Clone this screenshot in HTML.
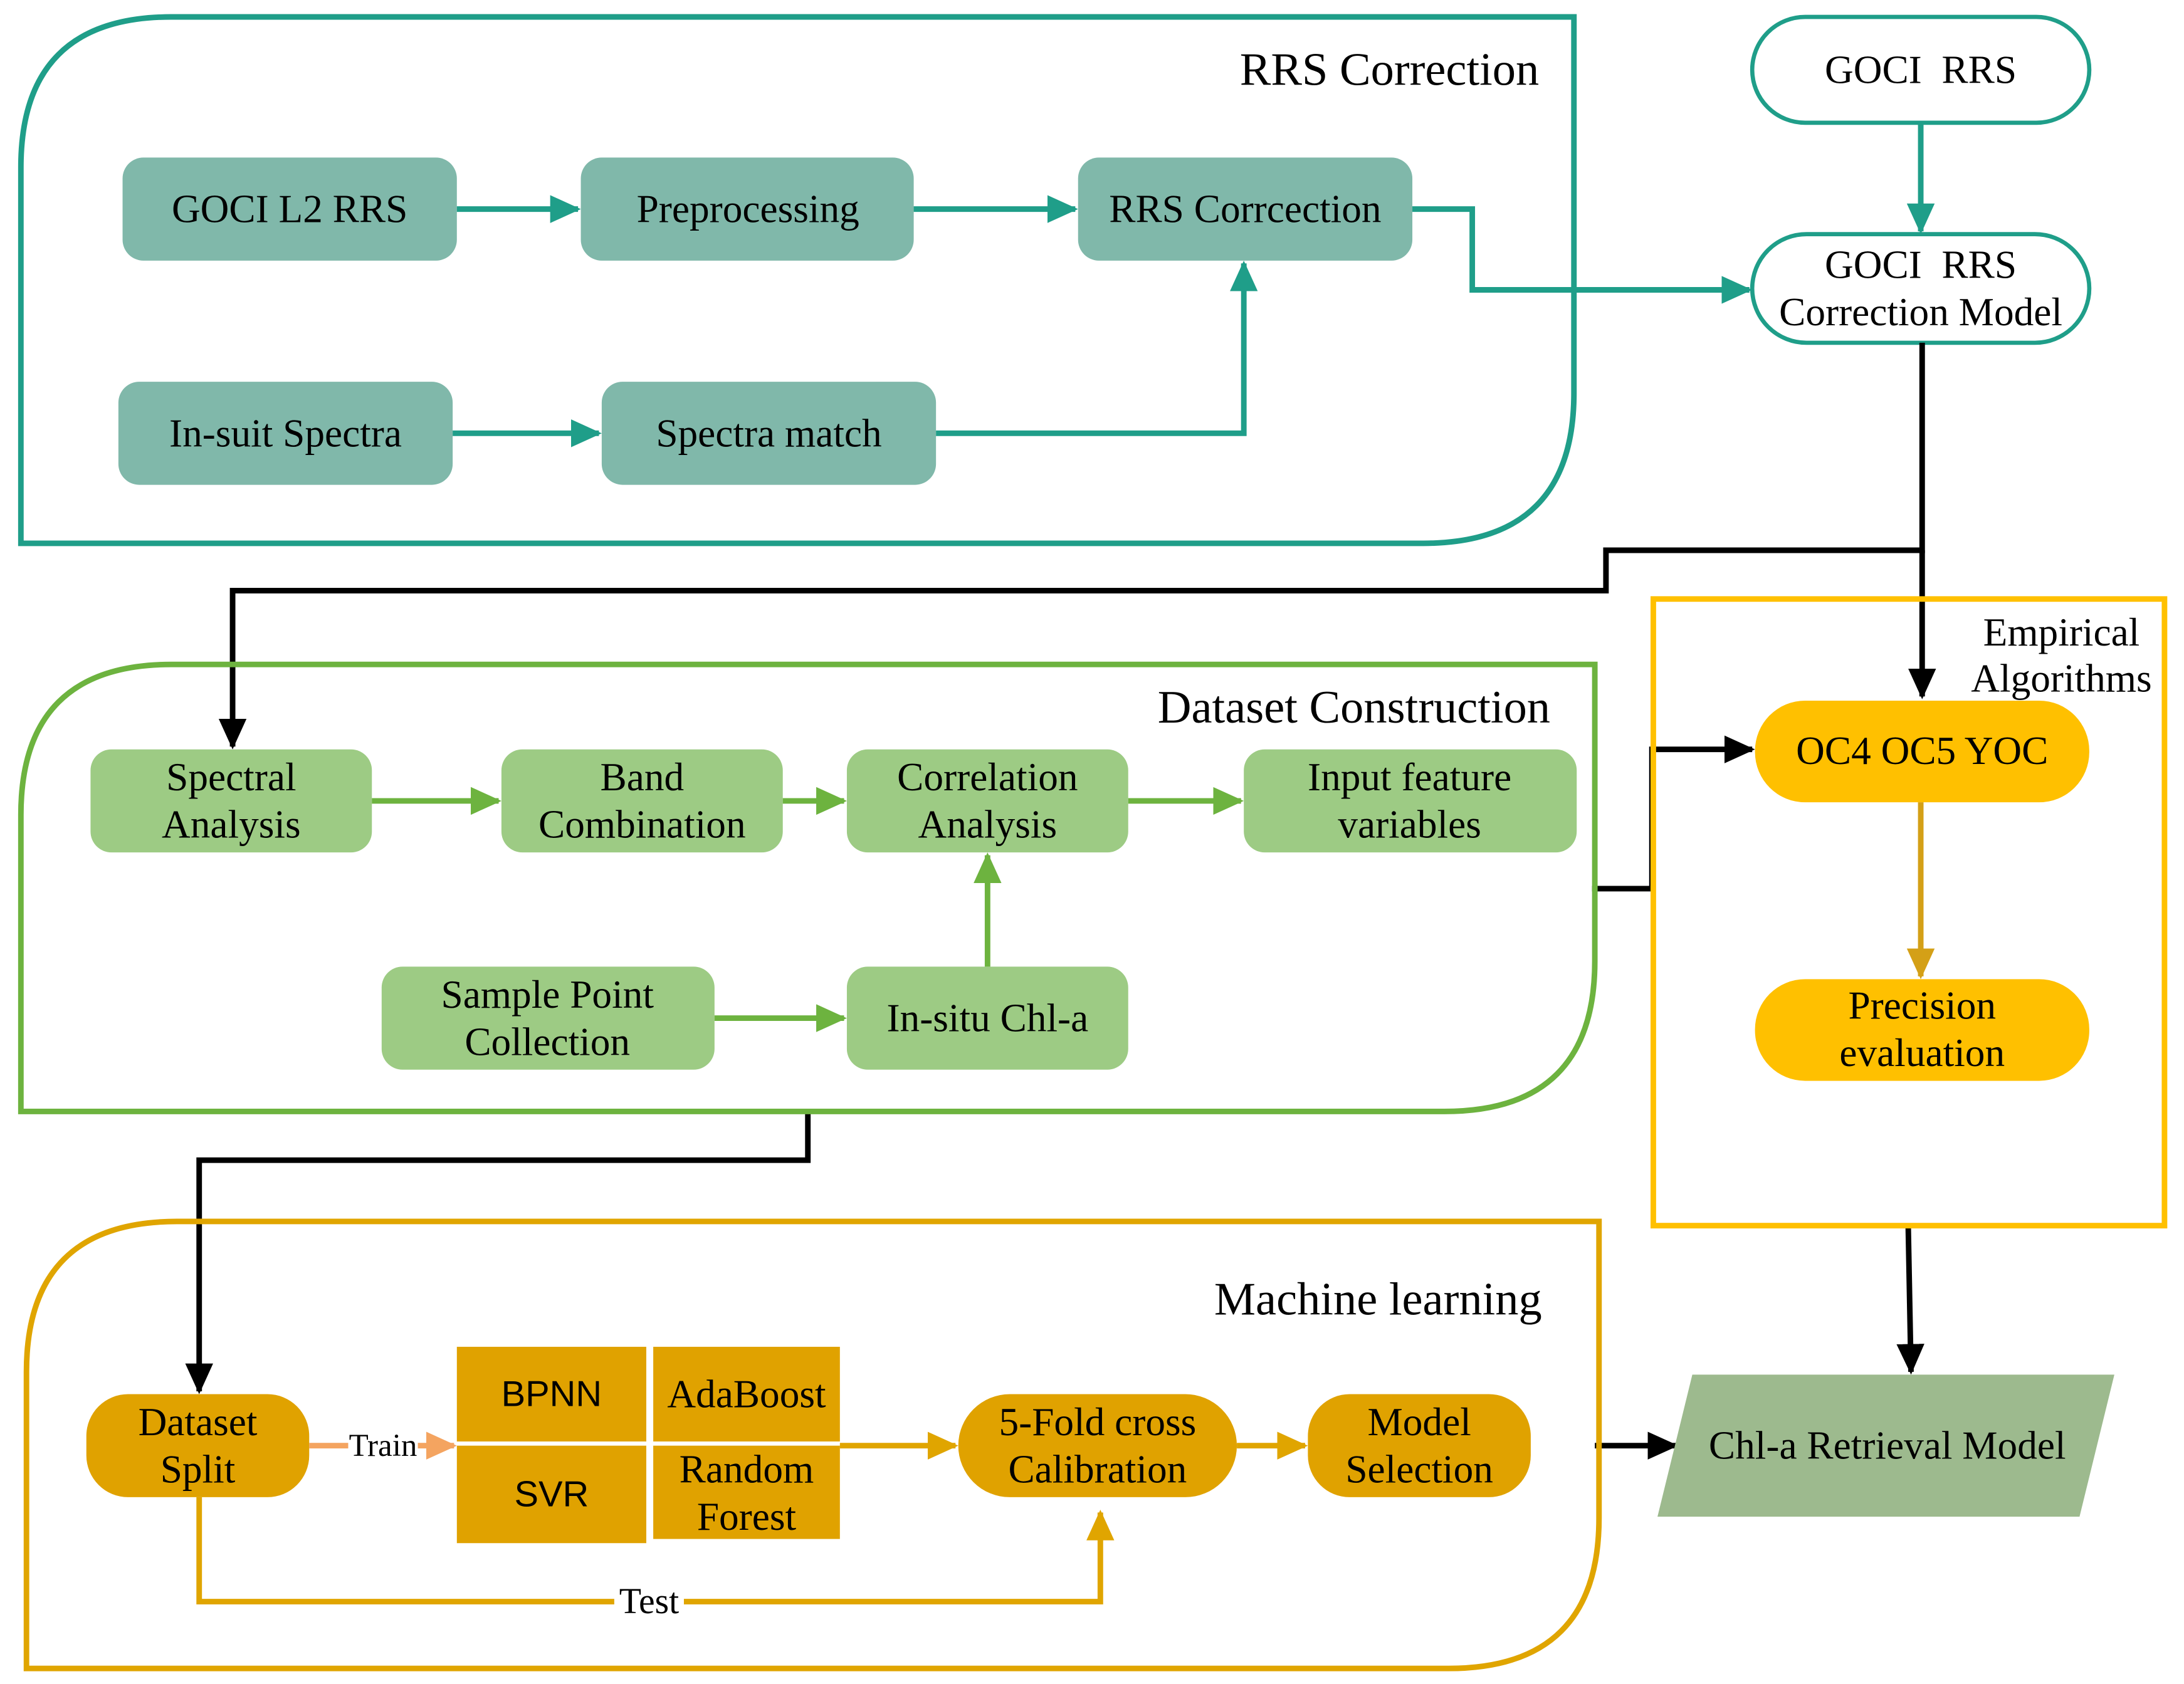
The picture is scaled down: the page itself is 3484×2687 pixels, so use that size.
<!DOCTYPE html>
<html><head><meta charset="utf-8"><style>html,body{margin:0;padding:0;background:#fff}svg{display:block}</style></head>
<body>
<svg xmlns="http://www.w3.org/2000/svg" width="3484" height="2687" viewBox="0 0 1568 1209" font-family="Liberation Serif, serif" font-size="28.5">
<defs>
<marker id="at" markerWidth="22" markerHeight="20" refX="20" refY="10" orient="auto" markerUnits="userSpaceOnUse" viewBox="0 0 22 20"><path d="M0,0 L22,10 L0,20 z" fill="#1f9e89"/></marker>
<marker id="ag" markerWidth="22" markerHeight="20" refX="20" refY="10" orient="auto" markerUnits="userSpaceOnUse" viewBox="0 0 22 20"><path d="M0,0 L22,10 L0,20 z" fill="#6db33f"/></marker>
<marker id="ab" markerWidth="22" markerHeight="20" refX="20" refY="10" orient="auto" markerUnits="userSpaceOnUse" viewBox="0 0 22 20"><path d="M0,0 L22,10 L0,20 z" fill="#000"/></marker>
<marker id="ao" markerWidth="22" markerHeight="20" refX="20" refY="10" orient="auto" markerUnits="userSpaceOnUse" viewBox="0 0 22 20"><path d="M0,0 L22,10 L0,20 z" fill="#e0a500"/></marker>
<marker id="ay" markerWidth="22" markerHeight="20" refX="20" refY="10" orient="auto" markerUnits="userSpaceOnUse" viewBox="0 0 22 20"><path d="M0,0 L22,10 L0,20 z" fill="#d4a017"/></marker>
<marker id="ap" markerWidth="22" markerHeight="20" refX="20" refY="10" orient="auto" markerUnits="userSpaceOnUse" viewBox="0 0 22 20"><path d="M0,0 L22,10 L0,20 z" fill="#f4a460"/></marker>
</defs>

<path d="M15,120 Q15,12 123,12 L1130,12 L1130,282 Q1130,390 1022,390 L15,390 Z" fill="none" stroke="#1f9e89" stroke-width="4"/>
<text x="1105" y="50" text-anchor="end" dominant-baseline="central" font-size="33.5">RRS Correction</text>
<g fill="#80b8aa">
<rect x="88" y="113" width="240" height="74" rx="15"/>
<rect x="417" y="113" width="239" height="74" rx="15"/>
<rect x="774" y="113" width="240" height="74" rx="15"/>
<rect x="85" y="274" width="240" height="74" rx="15"/>
<rect x="432" y="274" width="240" height="74" rx="15"/>
</g>
<g text-anchor="middle" dominant-baseline="central">
<text x="208" y="150">GOCI L2 RRS</text>
<text x="537" y="150">Preprocessing</text>
<text x="894" y="150">RRS Corrcection</text>
<text x="205" y="311">In-suit Spectra</text>
<text x="552" y="311">Spectra match</text>
</g>
<g stroke="#1f9e89" stroke-width="4" fill="none" marker-end="url(#at)">
<path d="M328,150 L415,150"/>
<path d="M656,150 L772,150"/>
<path d="M325,311 L430,311"/>
<path d="M672,311 L893,311 L893,189"/>
<path d="M1014,150 L1057,150 L1057,208 L1256,208"/>
<path d="M1379,88 L1379,166"/>
</g>
<rect x="1258" y="12" width="242" height="76" rx="38" fill="#fff" stroke="#1f9e89" stroke-width="3"/>
<rect x="1258" y="168" width="242" height="78" rx="39" fill="#fff" stroke="#1f9e89" stroke-width="3"/>
<g text-anchor="middle" dominant-baseline="central">
<text x="1379" y="50">GOCI&#160;&#160;RRS</text>
<text x="1379" y="190">GOCI&#160;&#160;RRS</text>
<text x="1379" y="224">Correction Model</text>
</g>

<g stroke="#000" stroke-width="4" fill="none" marker-end="url(#ab)">
<path d="M1380,246 L1380,395 L1153,395 L1153,424 L167,424 L167,536"/>
<path d="M1380,395 L1380,500"/>
<path d="M1143,638 L1186,638 L1186,538 L1258,538"/>
<path d="M580,798 L580,833 L143,833 L143,999"/>
<path d="M1370,880 L1372,985"/>
<path d="M1145,1038 L1203,1038"/>
</g>

<path d="M15,585 Q15,477 123,477 L1145,477 L1145,690 Q1145,798 1037,798 L15,798 Z" fill="none" stroke="#6db33f" stroke-width="4"/>
<text x="1113" y="508" text-anchor="end" dominant-baseline="central" font-size="33.5">Dataset Construction</text>
<g fill="#9dcb84">
<rect x="65" y="538" width="202" height="74" rx="15"/>
<rect x="360" y="538" width="202" height="74" rx="15"/>
<rect x="608" y="538" width="202" height="74" rx="15"/>
<rect x="893" y="538" width="239" height="74" rx="15"/>
<rect x="274" y="694" width="239" height="74" rx="15"/>
<rect x="608" y="694" width="202" height="74" rx="15"/>
</g>
<g text-anchor="middle" dominant-baseline="central">
<text x="166" y="558">Spectral</text><text x="166" y="592">Analysis</text>
<text x="461" y="558">Band</text><text x="461" y="592">Combination</text>
<text x="709" y="558">Correlation</text><text x="709" y="592">Analysis</text>
<text x="1012" y="558">Input feature</text><text x="1012" y="592">variables</text>
<text x="393" y="714">Sample Point</text><text x="393" y="748">Collection</text>
<text x="709" y="731">In-situ Chl-a</text>
</g>
<g stroke="#6db33f" stroke-width="4" fill="none" marker-end="url(#ag)">
<path d="M267,575 L358,575"/>
<path d="M562,575 L606,575"/>
<path d="M810,575 L891,575"/>
<path d="M513,731 L606,731"/>
<path d="M709,694 L709,614"/>
</g>

<rect x="1187" y="430" width="367" height="450" fill="none" stroke="#ffc000" stroke-width="4"/>
<g text-anchor="middle" dominant-baseline="central">
<text x="1480" y="454">Empirical</text><text x="1480" y="487">Algorithms</text>
</g>
<rect x="1260" y="503" width="240" height="73" rx="36" fill="#ffc000"/>
<rect x="1260" y="703" width="240" height="73" rx="36" fill="#ffc000"/>
<g text-anchor="middle" dominant-baseline="central">
<text x="1380" y="539">OC4 OC5 YOC</text>
<text x="1380" y="722">Precision</text><text x="1380" y="756">evaluation</text>
</g>
<path d="M1379,576 L1379,701" stroke="#d4a017" stroke-width="4" fill="none" marker-end="url(#ay)"/>

<path d="M19,985 Q19,877 127,877 L1148,877 L1148,1090 Q1148,1198 1040,1198 L19,1198 Z" fill="none" stroke="#e0a500" stroke-width="4"/>
<text x="1107" y="933" text-anchor="end" dominant-baseline="central" font-size="33.5">Machine learning</text>
<g fill="#e0a200">
<rect x="62" y="1001" width="160" height="74" rx="30"/>
<rect x="328" y="967" width="136" height="68"/>
<rect x="469" y="967" width="134" height="68"/>
<rect x="328" y="1038" width="136" height="70"/>
<rect x="469" y="1038" width="134" height="67"/>
<rect x="688" y="1001" width="200" height="74" rx="37"/>
<rect x="939" y="1001" width="160" height="74" rx="30"/>
</g>
<g text-anchor="middle" dominant-baseline="central">
<text x="142" y="1021">Dataset</text><text x="142" y="1055">Split</text>
<text x="396" y="1001" font-family="Liberation Sans, sans-serif" font-size="26">BPNN</text>
<text x="536" y="1001">AdaBoost</text>
<text x="396" y="1073" font-family="Liberation Sans, sans-serif" font-size="26">SVR</text>
<text x="536" y="1055">Random</text><text x="536" y="1089">Forest</text>
<text x="788" y="1021">5-Fold cross</text><text x="788" y="1055">Calibration</text>
<text x="1019" y="1021">Model</text><text x="1019" y="1055">Selection</text>
</g>
<path d="M222,1038 L326,1038" stroke="#f4a460" stroke-width="4" fill="none" marker-end="url(#ap)"/>
<rect x="250" y="1026" width="50" height="24" fill="#fff"/>
<text x="275" y="1038" text-anchor="middle" dominant-baseline="central" font-size="23">Train</text>
<g stroke="#e0a500" stroke-width="4" fill="none" marker-end="url(#ao)">
<path d="M603,1038 L686,1038"/>
<path d="M888,1038 L937,1038"/>
<path d="M143,1075 L143,1150 L790,1150 L790,1086"/>
</g>
<rect x="441" y="1138" width="50" height="24" fill="#fff"/>
<text x="466" y="1150" text-anchor="middle" dominant-baseline="central" font-size="26">Test</text>

<polygon points="1215,987 1518,987 1493,1089 1190,1089" fill="#9dba8e"/>
<text x="1355" y="1038" text-anchor="middle" dominant-baseline="central">Chl-a Retrieval Model</text>
</svg>
</body></html>
